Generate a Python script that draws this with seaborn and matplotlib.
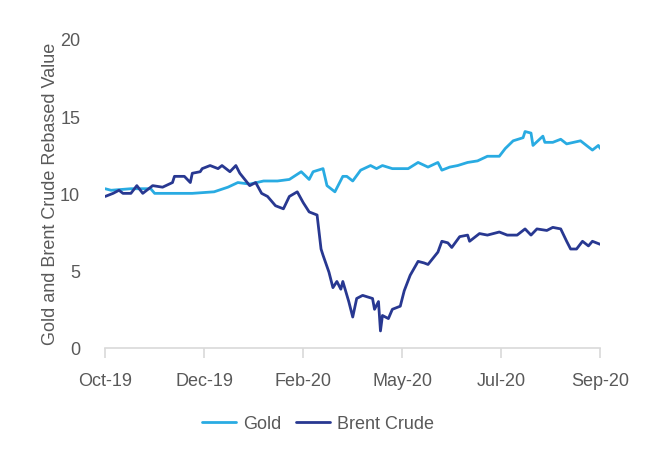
import pandas as pd
import matplotlib.pyplot as plt
import seaborn as sns

# trading-day index and rebased values
gold_day = [0, 3, 13, 23, 25, 38, 44, 55, 62, 67, 73, 80, 87, 93, 99, 103, 105, 110,
            112, 116, 120, 122, 125, 129, 134, 137, 140, 145, 153, 158, 163, 168, 170,
            174, 178, 183, 188, 193, 199, 202, 206, 211, 212, 215, 216, 221, 222, 226,
            230, 233, 240, 246, 249, 250]
gold_value = [10.3, 10.2, 10.3, 10.3, 10.0, 10.0, 10.0, 10.1, 10.4, 10.7, 10.6, 10.8,
              10.8, 10.9, 11.4, 10.9, 11.4, 11.6, 10.5, 10.1, 11.1, 11.1, 10.8, 11.5,
              11.8, 11.6, 11.8, 11.6, 11.6, 12.0, 11.7, 12.0, 11.5, 11.7, 11.8, 12.0,
              12.1, 12.4, 12.4, 12.9, 13.4, 13.6, 14.0, 13.9, 13.1, 13.7, 13.3, 13.3,
              13.5, 13.2, 13.4, 12.8, 13.1, 12.9]

brent_day = [0, 4, 7, 9, 13, 16, 19, 24, 29, 34, 35, 40, 43, 44, 48, 49, 53, 57, 59,
             63, 66, 68, 73, 76, 79, 82, 86, 90, 93, 97, 100, 103, 107, 109, 110, 113,
             115, 117, 119, 120, 123, 125, 127, 130, 135, 136, 138, 139, 140, 143, 145,
             149, 151, 154, 158, 161, 163, 168, 170, 173, 175, 179, 183, 184, 189, 193,
             199, 203, 208, 212, 215, 218, 223, 226, 230, 233, 235, 238, 241, 244, 246,
             250]
brent_value = [9.8, 10.0, 10.2, 10.0, 10.0, 10.5, 10.0, 10.5, 10.4, 10.7, 11.1, 11.1,
               10.7, 11.3, 11.4, 11.6, 11.8, 11.6, 11.8, 11.4, 11.8, 11.3, 10.5, 10.7,
               10.0, 9.8, 9.2, 9.0, 9.8, 10.1, 9.4, 8.8, 8.6, 6.4, 6.0, 4.9, 3.9, 4.3,
               3.8, 4.3, 3.0, 2.0, 3.2, 3.4, 3.2, 2.5, 3.0, 1.1, 2.1, 1.9, 2.5, 2.7,
               3.7, 4.7, 5.6, 5.5, 5.4, 6.2, 6.9, 6.8, 6.5, 7.2, 7.3, 6.9, 7.4, 7.3,
               7.5, 7.3, 7.3, 7.7, 7.3, 7.7, 7.6, 7.8, 7.7, 6.9, 6.4, 6.4, 6.9, 6.6,
               6.9, 6.7]

tick_days = [0, 50, 100, 150, 200, 250]
tick_labels = ['Oct-19', 'Dec-19', 'Feb-20', 'May-20', 'Jul-20', 'Sep-20']

df = pd.concat([
    pd.DataFrame({'day': gold_day, 'value': gold_value, 'series': 'Gold'}),
    pd.DataFrame({'day': brent_day, 'value': brent_value, 'series': 'Brent Crude'}),
])

sns.set_style('white')
plt.rcParams['font.family'] = ['Liberation Sans', 'DejaVu Sans']

fig = plt.figure(figsize=(6.49, 4.52), dpi=100)
ax = fig.add_axes([0.162, 0.228, 0.763, 0.684])

sns.lineplot(data=df, x='day', y='value', hue='series',
             palette={'Gold': '#29abe2', 'Brent Crude': '#283891'},
             linewidth=2.0, ax=ax)

ax.set_xlim(0, 250)
ax.set_ylim(0, 20)
ax.set_yticks([0, 5, 10, 15, 20])
ax.set_xticks(tick_days)
ax.set_xticklabels(tick_labels)
ax.set_xlabel('')
ax.set_ylabel('Gold and Brent Crude Rebased Value', fontsize=13, color='#595959', labelpad=1)

for s in ['top', 'right', 'left']:
    ax.spines[s].set_visible(False)
ax.spines['bottom'].set_color('#d9d9d9')
ax.spines['bottom'].set_linewidth(1.2)
ax.tick_params(axis='x', direction='out', length=7, width=1.2, color='#d9d9d9',
               labelsize=13, labelcolor='#595959', pad=10, bottom=True)
ax.tick_params(axis='y', length=0, labelsize=13, labelcolor='#595959', pad=18)

ax.legend(loc='upper center', bbox_to_anchor=(0.43, -0.165), ncol=2, frameon=False,
          fontsize=13, handlelength=1.9, handletextpad=0.4, columnspacing=0.8,
          labelcolor='#595959')

fig.savefig('out.png', dpi=100, facecolor='white')
